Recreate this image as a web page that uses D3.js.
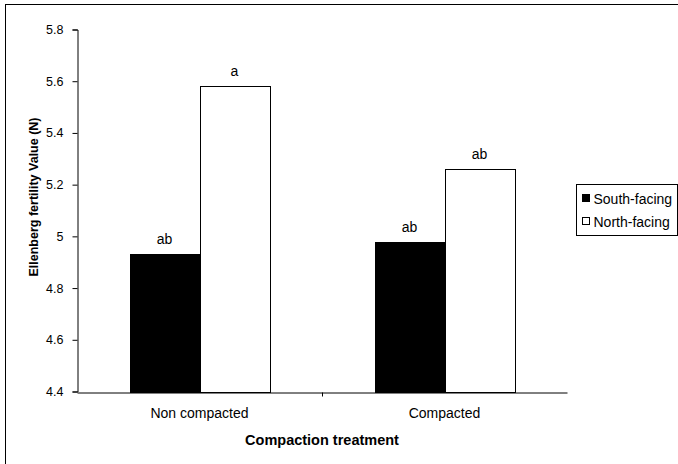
<!DOCTYPE html>
<html>
<head>
<meta charset="utf-8">
<script src="https://cdn.jsdelivr.net/npm/d3@7"></script>
<style>
  body { margin: 0; background: #fff; }
  svg { display: block; font-family: "Liberation Sans", Arial, sans-serif; }
</style>
</head>
<body>
<div id="chart"></div>
<script>
const categories = ['Non compacted', 'Compacted']
const series = ['South-facing', 'North-facing']
const southValues = [4.93, 4.98]
const northValues = [5.58, 5.26]
const southLetters = ['ab', 'ab']
const northLetters = ['a', 'ab']
const yTicks = [4.4, 4.6, 4.8, 5, 5.2, 5.4, 5.6, 5.8]

const width = 678
const height = 464
const margin = { left: 77, right: 111, top: 29.5, bottom: 72.5 }
const fontSize = 14

const svg = d3.select('#chart')
  .append('svg')
  .attr('width', width)
  .attr('height', height)

// outer chart frame (cut off at right/bottom)
svg.append('rect')
  .attr('x', 5.5).attr('y', 4.5)
  .attr('width', 700).attr('height', 500)
  .attr('fill', 'none')
  .attr('stroke', '#000')

const x = d3.scaleBand()
  .domain(categories)
  .range([margin.left, width - margin.right])

const xInner = d3.scaleBand()
  .domain(series)
  .range([0, x.bandwidth()])
  .paddingInner(0)
  .paddingOuter(0.75)

const y = d3.scaleLinear()
  .domain([4.4, 5.8])
  .range([height - margin.bottom, margin.top])

const data = categories.map((c, i) => ({
  cat: c,
  values: [
    { s: series[0], v: southValues[i], lab: southLetters[i], fill: '#000' },
    { s: series[1], v: northValues[i], lab: northLetters[i], fill: '#fff' }
  ]
}))

const groups = svg.append('g').attr('class', 'bars')
  .selectAll('g')
  .data(data)
  .join('g')
  .attr('transform', d => `translate(${x(d.cat)},0)`)

groups.selectAll('rect')
  .data(d => d.values)
  .join('rect')
  .attr('x', d => Math.round(xInner(d.s)) + 0.5)
  .attr('width', Math.round(xInner.bandwidth()))
  .attr('y', d => Math.round(y(d.v)) + 0.5)
  .attr('height', d => Math.round(y(4.4)) - Math.round(y(d.v)))
  .attr('fill', d => d.fill)
  .attr('stroke', '#000')
  .attr('stroke-width', 1)

groups.selectAll('text')
  .data(d => d.values)
  .join('text')
  .attr('x', d => xInner(d.s) + xInner.bandwidth() / 2)
  .attr('y', d => y(d.v) - 10)
  .attr('text-anchor', 'middle')
  .attr('font-size', fontSize)
  .attr('fill', '#000')
  .text(d => d.lab)

// y axis
const yAxis = svg.append('g')
  .attr('transform', `translate(${margin.left + 0.5},0)`)
  .call(d3.axisLeft(y).tickValues(yTicks).tickSize(5).tickFormat(d => d3.format('')(d)))
yAxis.select('.domain').attr('stroke', '#000')
yAxis.selectAll('.tick line').attr('stroke', '#000')
yAxis.selectAll('.tick text')
  .attr('font-size', 12.5)
  .attr('font-family', '"Liberation Sans", Arial, sans-serif')
  .attr('fill', '#000')
  .attr('x', -14)

// x axis
const xAxis = svg.append('g')
  .attr('transform', `translate(0,${Math.round(y(4.4)) + 0.5})`)
  .call(d3.axisBottom(x).tickSize(0).tickSizeOuter(0))
xAxis.select('.domain').attr('stroke', '#000')
xAxis.selectAll('.tick text')
  .attr('font-size', fontSize)
  .attr('font-family', '"Liberation Sans", Arial, sans-serif')
  .attr('fill', '#000')
  .attr('dy', 0)
  .attr('y', 25)
// tick between categories
xAxis.append('line')
  .attr('x1', x(categories[1]) + 0.5).attr('x2', x(categories[1]) + 0.5)
  .attr('y1', 0).attr('y2', 4)
  .attr('stroke', '#000')

// axis titles
svg.append('text')
  .attr('x', (margin.left + width - margin.right) / 2)
  .attr('y', 445)
  .attr('text-anchor', 'middle')
  .attr('font-size', 14.5)
  .attr('font-weight', 'bold')
  .text('Compaction treatment')

svg.append('text')
  .attr('transform', 'translate(38,197) rotate(-90)')
  .attr('text-anchor', 'middle')
  .attr('font-size', 12.5)
  .attr('font-weight', 'bold')
  .text('Ellenberg fertility Value (N)')

// legend
const legend = svg.append('g').attr('transform', 'translate(576.5,184.5)')
legend.append('rect')
  .attr('width', 101).attr('height', 51)
  .attr('fill', '#fff').attr('stroke', '#000')

const legendItems = legend.selectAll('g.item')
  .data(series)
  .join('g')
  .attr('class', 'item')
  .attr('transform', (d, i) => `translate(6,${14 + i * 23})`)

legendItems.append('rect')
  .attr('x', 0).attr('y', -4)
  .attr('width', 7).attr('height', 7)
  .attr('fill', (d, i) => i === 0 ? '#000' : '#fff')
  .attr('stroke', '#000')

legendItems.append('text')
  .attr('x', 11)
  .attr('y', 5)
  .attr('font-size', fontSize)
  .text(d => d)
</script>
</body>
</html>
